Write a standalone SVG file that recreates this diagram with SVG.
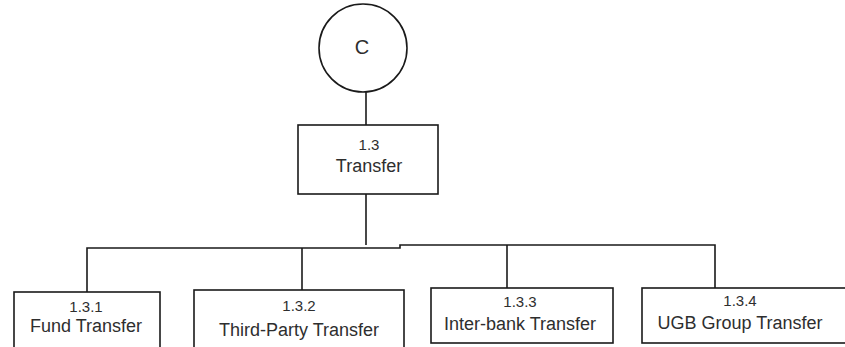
<svg xmlns="http://www.w3.org/2000/svg" width="845" height="347" viewBox="0 0 845 347">
<style>
.box{fill:#fff;stroke:#1a1a1a;stroke-width:1.6}
.ln{fill:none;stroke:#1a1a1a;stroke-width:1.6}
text{font-family:"Liberation Sans",Arial,sans-serif;fill:#2e2e2e;text-anchor:middle}
.num{font-size:15px}
.lbl{font-size:18px}
</style>
<rect width="845" height="347" fill="#fff"/>
<g id="connectors">
<line class="ln" x1="366" y1="91" x2="366" y2="125"/>
<line class="ln" x1="366" y1="194" x2="366" y2="245"/>
<polyline class="ln" points="87,292 87,248 400,248 400,245 715,245 715,288"/>
<line class="ln" x1="302" y1="248" x2="302" y2="290"/>
<line class="ln" x1="507" y1="245" x2="507" y2="288"/>
</g>
<g id="C">
<circle class="box" cx="363" cy="48" r="44"/>
<text x="362" y="54" style="font-size:20px">C</text>
</g>
<g id="n1_3">
<rect class="box" x="298" y="125" width="140" height="69"/>
<text class="num" x="369" y="150">1.3</text>
<text class="lbl" x="369" y="172">Transfer</text>
</g>
<g id="n1_3_1">
<rect class="box" x="14" y="292" width="146" height="62"/>
<text class="num" x="86" y="312">1.3.1</text>
<text class="lbl" x="86" y="332">Fund Transfer</text>
</g>
<g id="n1_3_2">
<rect class="box" x="194" y="290" width="210" height="64"/>
<text class="num" x="299" y="311">1.3.2</text>
<text class="lbl" x="299" y="336">Third-Party Transfer</text>
</g>
<g id="n1_3_3">
<rect class="box" x="431" y="288" width="182" height="55"/>
<text class="num" x="520" y="307">1.3.3</text>
<text class="lbl" x="520" y="330">Inter-bank Transfer</text>
</g>
<g id="n1_3_4">
<rect class="box" x="642" y="288" width="215" height="55"/>
<text class="num" x="740" y="306">1.3.4</text>
<text class="lbl" x="740" y="329">UGB Group Transfer</text>
</g>
</svg>
